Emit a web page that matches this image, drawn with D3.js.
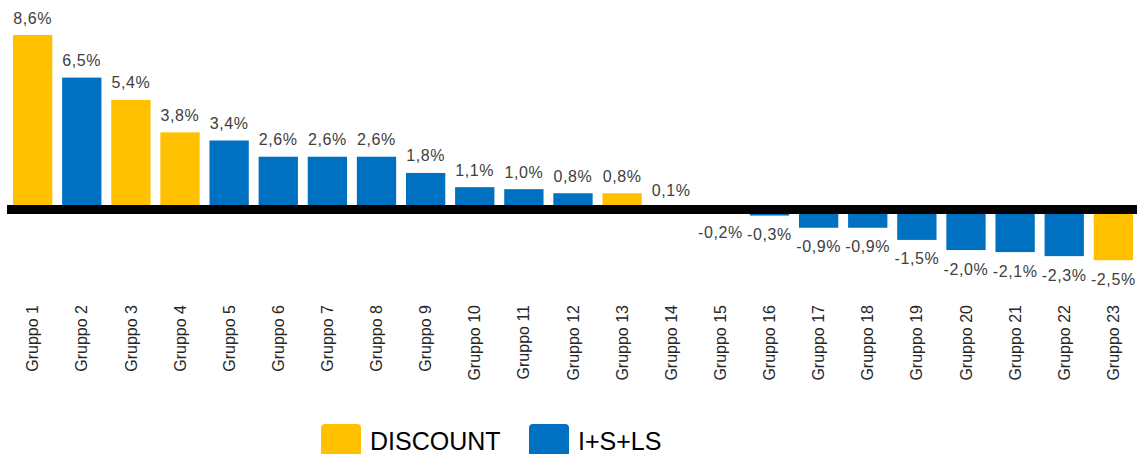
<!DOCTYPE html>
<meta charset="utf-8">
<style>
  body { margin: 0; background: #fff; }
  svg { display: block; }
</style>
<svg width="1137" height="454" font-family="'Liberation Sans', Arial, sans-serif"></svg>
<script src="https://d3js.org/d3.v7.min.js"></script>
<script>

// chart data
var groups = ["Gruppo 1", "Gruppo 2", "Gruppo 3", "Gruppo 4", "Gruppo 5", "Gruppo 6", "Gruppo 7", "Gruppo 8",
    "Gruppo 9", "Gruppo 10", "Gruppo 11", "Gruppo 12", "Gruppo 13", "Gruppo 14", "Gruppo 15", "Gruppo 16",
    "Gruppo 17", "Gruppo 18", "Gruppo 19", "Gruppo 20", "Gruppo 21", "Gruppo 22", "Gruppo 23"];
var values = [8.6, 6.5, 5.4, 3.8, 3.4, 2.6, 2.6, 2.6, 1.8, 1.1, 1.0, 0.8, 0.8, 0.1,
    -0.2, -0.3, -0.9, -0.9, -1.5, -2.0, -2.1, -2.3, -2.5];
var channels = ["DISCOUNT", "I+S+LS", "DISCOUNT", "DISCOUNT", "I+S+LS", "I+S+LS", "I+S+LS", "I+S+LS",
    "I+S+LS", "I+S+LS", "I+S+LS", "I+S+LS", "DISCOUNT", "I+S+LS", "I+S+LS", "I+S+LS",
    "I+S+LS", "I+S+LS", "I+S+LS", "I+S+LS", "I+S+LS", "I+S+LS", "DISCOUNT"];
var legendKeys = ["DISCOUNT", "I+S+LS"];

var data = groups.map(function(g, i) {
    return { name: g, value: values[i], channel: channels[i] };
});

var svg = d3.select("svg");

// italian style numbers, plain hyphen for negatives
var it = d3.formatLocale({ decimal: ",", thousands: ".", grouping: [3], currency: ["", "€"], minus: "-" });
var pct = it.format(".1f");

var x = d3.scaleBand()
    .domain(groups)
    .range([13, 1133])
    .paddingInner(0.2)
    .paddingOuter(0);

var y = d3.scaleLinear()
    .domain([d3.min(values), d3.max(values)])
    .range([260.2, 35]);

var z = d3.scaleOrdinal()
    .domain(legendKeys)
    .range(["#FFC000", "#0070C0"]);

// bars
svg.append("g")
  .selectAll("rect")
  .data(data)
  .enter().append("rect")
    .attr("x", function(d) { return x(d.name); })
    .attr("width", x.bandwidth())
    .attr("y", function(d) { return Math.min(y(d.value), y(0)); })
    .attr("height", function(d) { return Math.abs(y(d.value) - y(0)); })
    .attr("fill", function(d) { return z(d.channel); });

// zero line
svg.append("line")
    .attr("x1", 7)
    .attr("x2", 1137)
    .attr("y1", y(0))
    .attr("y2", y(0))
    .attr("stroke", "#000")
    .attr("stroke-width", 9);

// value labels
svg.append("g")
    .attr("text-anchor", "middle")
    .attr("font-size", 16)
    .attr("letter-spacing", 0.6)
    .attr("fill", "#404040")
  .selectAll("text")
  .data(data)
  .enter().append("text")
    .attr("x", function(d) { return x(d.name) + x.bandwidth() / 2; })
    .attr("y", function(d) { return d.value >= 0 ? y(d.value) - 11.5 : y(d.value) + 24.5; })
    .text(function(d) { return pct(d.value) + "%"; });

// category labels
svg.append("g")
    .attr("text-anchor", "end")
    .attr("font-size", 16)
    .attr("fill", "#262626")
  .selectAll("text")
  .data(groups)
  .enter().append("text")
    .attr("transform", function(d) { return "translate(" + (x(d) + x.bandwidth() / 2) + ",305)rotate(-90)"; })
    .attr("dy", "0.35em")
    .text(function(d) { return d; });

// legend
var legendX = [321, 529];
var legend = svg.append("g")
  .selectAll("g")
  .data(legendKeys)
  .enter().append("g")
    .attr("transform", function(d, i) { return "translate(" + legendX[i] + ",424)"; });

legend.append("rect")
    .attr("width", 40)
    .attr("height", 40)
    .attr("rx", 4)
    .attr("fill", z);

legend.append("text")
    .attr("x", 49)
    .attr("y", 26)
    .attr("font-size", 25)
    .attr("fill", "#000")
    .text(function(d) { return d; });

</script>
